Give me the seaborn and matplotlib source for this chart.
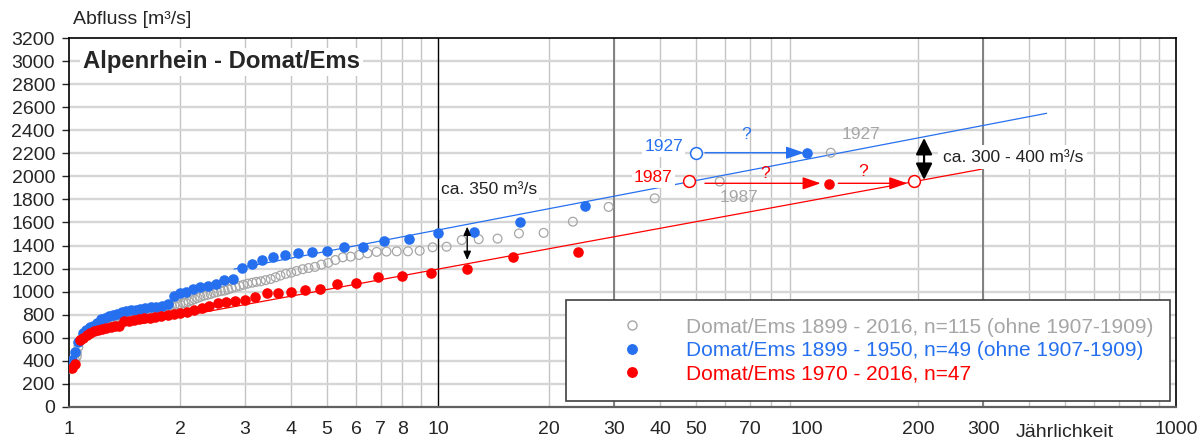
import matplotlib
matplotlib.use("Agg")
import matplotlib.pyplot as plt
import matplotlib.transforms as mtransforms
from matplotlib.lines import Line2D
import pandas as pd
import seaborn as sns

sns.set_style("white")
plt.rcParams['font.family'] = ['Liberation Sans', 'DejaVu Sans']

grau = '#a6a6a6'
blau = '#2670f0'
rot = '#ff0000'

# %%
# Jaehrlichkeit [a] und Abfluss [m3/s], Domat/Ems 1899 - 2016 (n=115)
gray_T = [116, 58, 38.67, 29, 23.2, 19.33, 16.57, 14.5, 12.89, 11.6,
          10.55, 9.67, 8.92, 8.29, 7.73, 7.25, 6.82, 6.44, 6.11, 5.8,
          5.52, 5.27, 5.04, 4.83, 4.64, 4.46, 4.30, 4.14, 4.0, 3.87,
          3.74, 3.63, 3.52, 3.41, 3.31, 3.22, 3.14, 3.05, 2.97, 2.9,
          2.83, 2.76, 2.70, 2.64, 2.58, 2.52, 2.47, 2.42, 2.37, 2.32,
          2.27, 2.23, 2.19, 2.15, 2.11, 2.07, 2.04, 2.0, 1.97, 1.93,
          1.90, 1.87, 1.84, 1.81, 1.78, 1.76, 1.73, 1.71, 1.68, 1.66,
          1.63, 1.61, 1.59, 1.57, 1.55, 1.53, 1.51, 1.49, 1.47, 1.45,
          1.43, 1.41, 1.40, 1.38, 1.36, 1.35, 1.33, 1.32, 1.30, 1.29,
          1.27, 1.26, 1.25, 1.23, 1.22, 1.21, 1.20, 1.18, 1.17, 1.16,
          1.15, 1.14, 1.13, 1.12, 1.10, 1.09, 1.08, 1.07, 1.06, 1.05,
          1.05, 1.04, 1.03, 1.02, 1.01]
gray_Q = [2205, 1955, 1810, 1735, 1607, 1510, 1505, 1460, 1455, 1448,
          1390, 1385, 1355, 1350, 1350, 1348, 1345, 1333, 1318, 1304,
          1298, 1275, 1250, 1235, 1215, 1205, 1195, 1180, 1165, 1155,
          1140, 1125, 1110, 1100, 1090, 1085, 1078, 1070, 1060, 1050,
          1040, 1030, 1020, 1010, 1005, 997, 990, 980, 972, 965,
          955, 945, 935, 925, 915, 905, 900, 890, 885, 880,
          875, 870, 865, 860, 855, 850, 845, 840, 835, 830,
          825, 820, 815, 810, 805, 800, 795, 790, 785, 780,
          775, 770, 765, 760, 755, 750, 745, 740, 735, 730,
          725, 720, 715, 710, 705, 700, 695, 690, 685, 680,
          670, 660, 650, 640, 620, 600, 590, 570, 520, 470,
          440, 400, 370, 350, 330]

# Domat/Ems 1899 - 1950 (n=49)
blue_T = [100, 25, 16.67, 12.5, 10, 8.33, 7.14, 6.25, 5.56, 5,
          4.55, 4.17, 3.85, 3.57, 3.33, 3.13, 2.94, 2.78, 2.63, 2.5,
          2.38, 2.27, 2.17, 2.08, 2.0, 1.92, 1.85, 1.79, 1.72, 1.67,
          1.61, 1.56, 1.52, 1.47, 1.43, 1.39, 1.35, 1.32, 1.28, 1.25,
          1.22, 1.19, 1.16, 1.14, 1.11, 1.09, 1.06, 1.04, 1.02]
blue_Q = [2205, 1740, 1600, 1520, 1505, 1455, 1440, 1390, 1385, 1355,
          1345, 1335, 1320, 1300, 1275, 1240, 1205, 1110, 1100, 1065,
          1050, 1040, 1020, 1000, 985, 960, 890, 880, 870, 865,
          858, 850, 845, 840, 830, 820, 810, 800, 790, 775,
          760, 725, 705, 690, 670, 640, 560, 480, 410]

# Domat/Ems 1970 - 2016 (n=47)
red_T = [115, 24, 16, 12, 9.6, 8, 6.86, 6, 5.33, 4.8,
         4.36, 4, 3.69, 3.43, 3.2, 3, 2.82, 2.67, 2.53, 2.4,
         2.29, 2.18, 2.09, 2, 1.92, 1.85, 1.78, 1.71, 1.66, 1.6,
         1.55, 1.5, 1.45, 1.41, 1.37, 1.33, 1.3, 1.26, 1.23, 1.2,
         1.17, 1.14, 1.12, 1.09, 1.07, 1.04, 1.02]
red_Q = [1935, 1345, 1305, 1195, 1160, 1140, 1130, 1075, 1065, 1020,
         1015, 1000, 990, 985, 955, 925, 920, 912, 900, 876,
         855, 840, 827, 815, 805, 800, 790, 780, 775, 770,
         765, 755, 750, 745, 705, 700, 690, 685, 675, 665,
         655, 640, 620, 600, 580, 370, 340]

# Ausgleichsgeraden
blue_fit_T = [2.8, 446]
blue_fit_Q = [1196, 2547]
red_fit_T = [1.58, 297]
red_fit_Q = [724, 2062]

# Hochwasser 1927 / 1987 (urspruengliche Jaehrlichkeit)
hw1927_T, hw1927_Q = [50], [2205]
hw1987_T, hw1987_Q = [48, 195], [1960, 1960]

x_ticks = [1, 2, 3, 4, 5, 6, 7, 8, 10, 20, 30, 40, 50, 70, 100, 200, 300, 1000]
y_ticks = list(range(0, 3201, 200))
legend_labels = ['Domat/Ems 1899 - 2016, n=115 (ohne 1907-1909)',
                 'Domat/Ems 1899 - 1950, n=49 (ohne 1907-1909)',
                 'Domat/Ems 1970 - 2016, n=47']

# %%
fig, ax = plt.subplots(figsize=(12, 4.43), dpi=100)
fig.subplots_adjust(left=0.0575, right=0.98, bottom=0.0813, top=0.9142)

ax.set_xscale('log')
ax.set_xlim(1, 1000)
ax.set_ylim(0, 3200)

# Raster
for dec in [1, 10, 100]:
    for k in range(2, 10):
        ax.axvline(k * dec, color='#c4c4c4', lw=1, zorder=0)
ax.axvline(10, color='black', lw=1, zorder=0.5)
ax.axvline(30, color='#808080', lw=1.4, zorder=0.5)
ax.axvline(300, color='#808080', lw=1.4, zorder=0.5)
for yv in range(200, 3200, 200):
    ax.axhline(yv, color='#d6d6d6', lw=1.7, zorder=0)

sns.lineplot(x=blue_fit_T, y=blue_fit_Q, color=blau, lw=0.9, ax=ax, zorder=2)
sns.lineplot(x=red_fit_T, y=red_fit_Q, color=rot, lw=0.9, ax=ax, zorder=2)

df_gray = pd.DataFrame({'T': gray_T, 'Q': gray_Q})
df_blue = pd.DataFrame({'T': blue_T, 'Q': blue_Q})
df_red = pd.DataFrame({'T': red_T, 'Q': red_Q})
sns.scatterplot(data=df_gray, x='T', y='Q', color='none', edgecolor=grau,
                linewidth=0.9, s=40, ax=ax, zorder=3, legend=False)
sns.scatterplot(data=df_blue, x='T', y='Q', color=blau, edgecolor=blau,
                linewidth=0, s=58, ax=ax, zorder=4, legend=False)
sns.scatterplot(data=df_red, x='T', y='Q', color=rot, edgecolor=rot,
                linewidth=0, s=58, ax=ax, zorder=5, legend=False)

ax.plot(hw1927_T, hw1927_Q, 'o', ms=8.5, mfc='white', mec=blau, mew=1.1, zorder=6)
ax.plot(hw1987_T, hw1987_Q, 'o', ms=8.5, mfc='white', mec=rot, mew=1.1, zorder=6)

# Pfeile
arr = '-|>,head_length=1.1,head_width=0.38'
ax.annotate('', xy=(98.2, 2205), xytext=(52.9, 2205),
            arrowprops=dict(arrowstyle=arr, color=blau, lw=1, shrinkA=0, shrinkB=0,
                            mutation_scale=10), zorder=6)
ax.annotate('', xy=(108.9, 1940), xytext=(52.9, 1940),
            arrowprops=dict(arrowstyle=arr, color=rot, lw=1, shrinkA=0, shrinkB=0,
                            mutation_scale=10), zorder=6)
ax.annotate('', xy=(187, 1940), xytext=(121.6, 1940),
            arrowprops=dict(arrowstyle=arr, color=rot, lw=1, shrinkA=0, shrinkB=0,
                            mutation_scale=10), zorder=6)
ax.annotate('', xy=(12.0, 1564), xytext=(12.0, 1275),
            arrowprops=dict(arrowstyle='<|-|>,head_length=0.5,head_width=0.22', color='black',
                            lw=1, shrinkA=0, shrinkB=0, mutation_scale=10), zorder=6)
ax.annotate('', xy=(207.6, 2333), xytext=(207.6, 1969),
            arrowprops=dict(arrowstyle='<|-|>,head_length=1.0,head_width=0.5', color='black',
                            lw=1.6, shrinkA=0, shrinkB=0, mutation_scale=10), zorder=6)

wbox = dict(facecolor='white', edgecolor='none', pad=1.5)
ax.text(46.1, 2255, '1927', color=blau, ha='right', va='center', fontsize=12.5, bbox=wbox, zorder=5)
ax.text(43.3, 1986, '1987', color=rot, ha='right', va='center', fontsize=12.5, bbox=wbox, zorder=5)
ax.text(65.6, 1821, '1987', color=grau, ha='center', va='center', fontsize=12.5, zorder=5)
ax.text(140, 2359, '1927', color=grau, ha='center', va='center', fontsize=12.5, zorder=5)
ax.text(68.6, 2359, '?', color=blau, ha='center', va='center', fontsize=12.5, zorder=5)
ax.text(76.9, 2027, '?', color=rot, ha='center', va='center', fontsize=12.5, zorder=5)
ax.text(142, 2041, '?', color=rot, ha='center', va='center', fontsize=12.5, zorder=5)
ax.text(10.19, 1882, 'ca. 350 m³/s', color='#222222', ha='left', va='center',
        fontsize=12.5, bbox=wbox, zorder=5)
ax.text(233, 2168, 'ca. 300 - 400 m³/s', color='#222222', ha='left', va='center',
        fontsize=12.5, bbox=dict(facecolor='white', edgecolor='none', pad=3), zorder=5)

ax.text(0.0127, 0.935, 'Alpenrhein - Domat/Ems', transform=ax.transAxes, fontsize=17.2,
        fontweight='bold', ha='left', va='center',
        bbox=dict(facecolor='white', edgecolor='none', pad=2), zorder=5)

# Achsen
ax.set_xticks(x_ticks)
ax.set_xticklabels([str(t) for t in x_ticks])
ax.set_xticks([1, 10, 30, 100, 300, 1000], minor=True)
ax.xaxis.set_minor_formatter(matplotlib.ticker.NullFormatter())
ax.tick_params(axis='x', which='major', length=0, pad=10, labelsize=14)
ax.tick_params(axis='x', which='minor', length=5, width=1, color='#404040', bottom=True)
ax.set_yticks(y_ticks)
ax.tick_params(axis='y', length=5, width=1, pad=5, labelsize=14, left=True)
ax.set_xlabel('')
ax.set_ylabel('')

for side in ['top', 'left', 'right']:
    ax.spines[side].set_color('black')
    ax.spines[side].set_linewidth(1.2)
ax.spines['bottom'].set_color('#606060')
ax.spines['bottom'].set_linewidth(1.6)

trans = mtransforms.blended_transform_factory(ax.transData, ax.transAxes)
ax.text(500, -0.068, 'Jährlichkeit', transform=trans, ha='center', va='center', fontsize=14)
fig.text(73 / 1200, 1 - 20 / 443, 'Abfluss [m³/s]', ha='left', va='center', fontsize=14)

handles = [Line2D([], [], marker='o', ls='none', mfc='none', mec=grau, mew=1, ms=6.5),
           Line2D([], [], marker='o', ls='none', mfc=blau, mec=blau, ms=6.8),
           Line2D([], [], marker='o', ls='none', mfc=rot, mec=rot, ms=6.8)]
leg = ax.legend(handles, legend_labels, loc='upper left', bbox_to_anchor=(0.449, 0.0244, 0.5456, 0.2656),
                mode='expand', borderaxespad=0, fontsize=15, labelcolor=[grau, blau, rot],
                handlelength=4.6, handletextpad=0.32, borderpad=0.85, labelspacing=0.2,
                fancybox=False, framealpha=1, edgecolor='#404040')
leg.get_frame().set_linewidth(1.2)
leg.set_zorder(10)

plt.savefig('out.png', dpi=100)
